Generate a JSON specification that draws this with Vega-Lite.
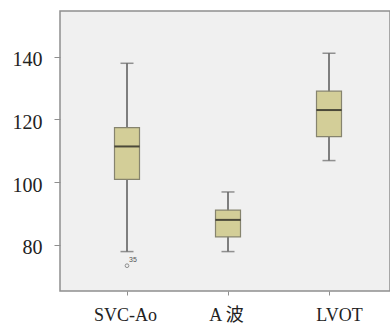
{
  "$schema": "https://vega.github.io/schema/vega-lite/v6.json",
  "autosize": "none",
  "padding": {"left": 60, "top": 11, "right": 0, "bottom": 33},
  "width": 330,
  "height": 280,
  "background": "white",
  "config": {
    "view": {"fill": "#f0f0f0", "stroke": "#8f8f8f", "strokeWidth": 1.5}
  },
  "datasets": {
    "stats": [
      {"group": "SVC-Ao", "lower": 77.9, "q1": 100.9, "median": 111.4, "q3": 117.4, "upper": 137.9},
      {"group": "A 波", "lower": 77.9, "q1": 82.6, "median": 88.0, "q3": 91.1, "upper": 96.9},
      {"group": "LVOT", "lower": 106.9, "q1": 114.5, "median": 123.0, "q3": 129.0, "upper": 141.1}
    ],
    "outliers": [
      {"group": "SVC-Ao", "value": 73.4, "case": "35"}
    ]
  },
  "data": {"name": "stats"},
  "encoding": {
    "x": {
      "field": "group",
      "type": "nominal",
      "sort": ["SVC-Ao", "A 波", "LVOT"],
      "scale": {"type": "point", "range": [67, 269], "padding": 0, "domain": ["SVC-Ao", "A 波", "LVOT"]},
      "axis": {
        "title": null,
        "labelAngle": 0,
        "labelFont": "Liberation Serif, Noto Sans CJK SC",
        "labelFontSize": 18,
        "labelColor": "#222222",
        "labelPadding": 11,
        "labelOffset": {"condition": {"test": "datum.value === 'LVOT'", "value": 10}, "value": -2},
        "tickSize": 4,
        "tickColor": "#8f8f8f",
        "domain": false
      }
    }
  },
  "layer": [
    {
      "mark": {"type": "rule", "color": "#595959", "strokeWidth": 1.5},
      "encoding": {
        "y": {
          "field": "lower",
          "type": "quantitative",
          "scale": {"domain": [65.34, 154.56], "nice": false, "zero": false},
          "axis": {
            "title": null,
            "values": [80, 100, 120, 140],
            "grid": false,
            "labelFont": "Liberation Serif",
            "labelFontSize": 20,
            "labelColor": "#222222",
            "labelPadding": 12,
            "labelOffset": 3,
            "tickSize": 6,
            "tickColor": "#8f8f8f",
            "domain": false
          }
        },
        "y2": {"field": "upper"}
      }
    },
    {
      "mark": {"type": "tick", "color": "#666666", "size": 13, "thickness": 1.5},
      "encoding": {"y": {"field": "lower", "type": "quantitative"}}
    },
    {
      "mark": {"type": "tick", "color": "#666666", "size": 13, "thickness": 1.5},
      "encoding": {"y": {"field": "upper", "type": "quantitative"}}
    },
    {
      "mark": {"type": "bar", "size": 25, "fill": "#d3ce98", "stroke": "#86846e", "strokeWidth": 1.2},
      "encoding": {
        "y": {"field": "q1", "type": "quantitative"},
        "y2": {"field": "q3"}
      }
    },
    {
      "mark": {"type": "tick", "color": "#111111", "size": 25, "thickness": 2},
      "encoding": {"y": {"field": "median", "type": "quantitative"}}
    },
    {
      "data": {"name": "outliers"},
      "mark": {"type": "point", "shape": "circle", "filled": false, "size": 14, "stroke": "#666666", "strokeWidth": 1},
      "encoding": {"y": {"field": "value", "type": "quantitative"}}
    },
    {
      "data": {"name": "outliers"},
      "mark": {"type": "text", "font": "Liberation Sans", "fontSize": 7, "color": "#555555", "dx": 6, "dy": -6, "align": "center"},
      "encoding": {
        "y": {"field": "value", "type": "quantitative"},
        "text": {"field": "case"}
      }
    }
  ]
}
